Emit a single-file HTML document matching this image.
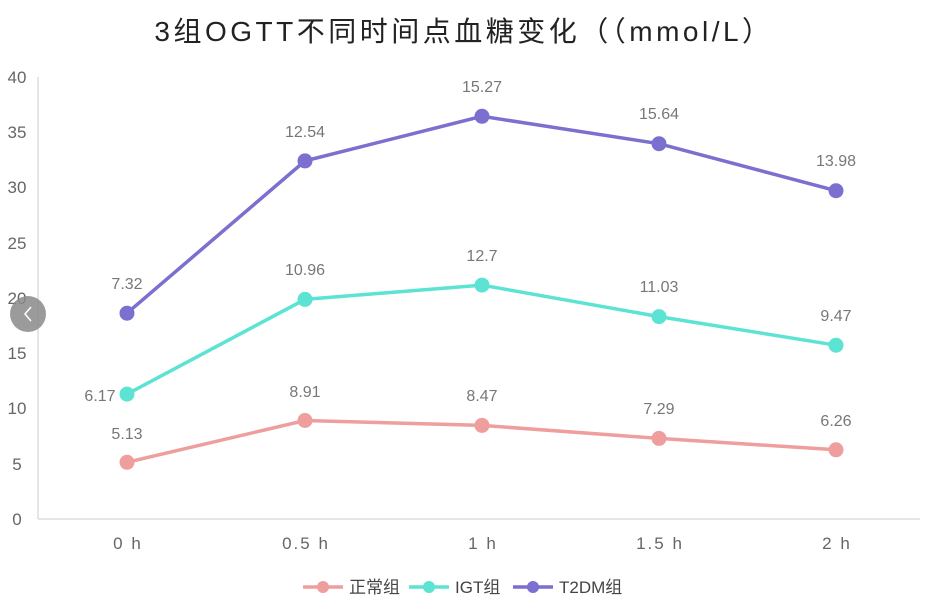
<!DOCTYPE html>
<html><head><meta charset="utf-8"><style>
body{margin:0;background:#fff;width:929px;height:608px;overflow:hidden}
text{font-family:"Liberation Sans","Noto Sans CJK SC",sans-serif}
</style></head><body>
<svg width="929" height="608" xmlns="http://www.w3.org/2000/svg">
<text x="464" y="41" text-anchor="middle" font-size="28" letter-spacing="3.5" fill="#222">3组OGTT不同时间点血糖变化（（mmol/L）</text>
<line x1="38" y1="77" x2="38" y2="519" stroke="#ccc"/>
<line x1="38" y1="519" x2="920" y2="519" stroke="#ccc"/>
<g font-size="17" fill="#666" text-anchor="middle">
<text x="17" y="525">0</text><text x="17" y="470">5</text><text x="17" y="414">10</text><text x="17" y="359">15</text><text x="17" y="304">20</text><text x="17" y="249">25</text><text x="17" y="193">30</text><text x="17" y="138">35</text><text x="17" y="83">40</text>
</g>
<g font-size="17" fill="#666" text-anchor="middle" letter-spacing="2">
<text x="128" y="549">0 h</text><text x="306" y="549">0.5 h</text><text x="483" y="549">1 h</text><text x="660" y="549">1.5 h</text><text x="837" y="549">2 h</text>
</g>
<g fill="none" stroke-width="3.5">
<polyline stroke="#ee9e9c" points="127,462.3 305,420.5 482,425.4 659,438.4 836,449.8"/>
<polyline stroke="#5ce3d3" points="127,394.1 305,299.4 482,285.1 659,316.6 836,345.2"/>
<polyline stroke="#7b6fcf" points="127,313.2 305,160.9 482,116.3 659,143.7 836,190.7"/>
</g>
<g fill="#ee9e9c"><circle cx="127" cy="462.3" r="7.5"/><circle cx="305" cy="420.5" r="7.5"/><circle cx="482" cy="425.4" r="7.5"/><circle cx="659" cy="438.4" r="7.5"/><circle cx="836" cy="449.8" r="7.5"/></g>
<g fill="#5ce3d3"><circle cx="127" cy="394.1" r="7.5"/><circle cx="305" cy="299.4" r="7.5"/><circle cx="482" cy="285.1" r="7.5"/><circle cx="659" cy="316.6" r="7.5"/><circle cx="836" cy="345.2" r="7.5"/></g>
<g fill="#7b6fcf"><circle cx="127" cy="313.2" r="7.5"/><circle cx="305" cy="160.9" r="7.5"/><circle cx="482" cy="116.3" r="7.5"/><circle cx="659" cy="143.7" r="7.5"/><circle cx="836" cy="190.7" r="7.5"/></g>
<g font-size="16" fill="#777" text-anchor="middle">
<text x="127" y="439">5.13</text><text x="305" y="397">8.91</text><text x="482" y="401">8.47</text><text x="659" y="414">7.29</text><text x="836" y="426">6.26</text>
<text x="100" y="401">6.17</text><text x="305" y="275">10.96</text><text x="482" y="261">12.7</text><text x="659" y="292">11.03</text><text x="836" y="321">9.47</text>
<text x="127" y="289">7.32</text><text x="305" y="137">12.54</text><text x="482" y="92">15.27</text><text x="659" y="119">15.64</text><text x="836" y="166">13.98</text>
</g>
<circle cx="28" cy="314" r="18" fill="#8a8a8a" opacity="0.85"/>
<polyline points="31,307 25,314 31,321" fill="none" stroke="#fff" stroke-width="1.5"/>
<g font-size="17" fill="#444">
<line x1="303" y1="587" x2="343" y2="587" stroke="#ee9e9c" stroke-width="3.5"/><circle cx="323" cy="587" r="6" fill="#ee9e9c"/>
<text x="349" y="593">正常组</text>
<line x1="409" y1="587" x2="449" y2="587" stroke="#5ce3d3" stroke-width="3.5"/><circle cx="429" cy="587" r="6" fill="#5ce3d3"/>
<text x="455" y="593">IGT组</text>
<line x1="513" y1="587" x2="553" y2="587" stroke="#7b6fcf" stroke-width="3.5"/><circle cx="533" cy="587" r="6" fill="#7b6fcf"/>
<text x="559" y="593">T2DM组</text>
</g>
</svg>
</body></html>
